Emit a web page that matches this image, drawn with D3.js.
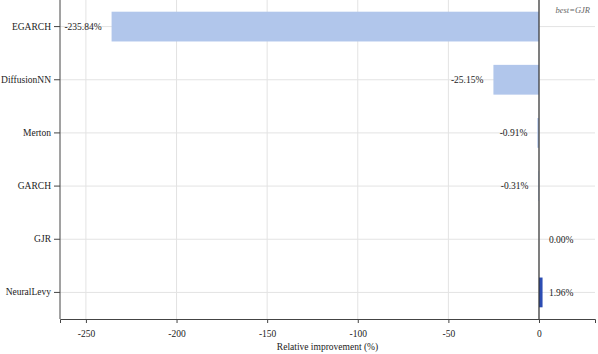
<!DOCTYPE html>
<html>
<head>
<meta charset="utf-8">
<script src="https://cdn.jsdelivr.net/npm/d3@7"></script>
<style>
  body { margin: 0; background: #fff; }
  svg text { font-family: "Liberation Serif", "DejaVu Serif", serif !important; }
</style>
</head>
<body>
<svg id="chart"></svg>
<script>
// data
var models = ["EGARCH", "DiffusionNN", "Merton", "GARCH", "GJR", "NeuralLevy"];
var improvement = [-235.84, -25.15, -0.91, -0.31, 0.00, 1.96];
var xTicks = [-250, -200, -150, -100, -50, 0];
var bestModel = "GJR";

var width = 598, height = 354;
var marginLeft = 60, marginRight = 3, marginTop = 0, marginBottom = 35;
var fontSize = "9.5px";

var svg = d3.select("#chart")
    .attr("width", width)
    .attr("height", height);

var x = d3.scaleLinear()
    .domain([-264.3, 30.9])
    .range([marginLeft, width - marginRight]);

var y = d3.scaleBand()
    .domain(models)
    .range([marginTop, height - marginBottom])
    .paddingInner(0.44)
    .paddingOuter(0.22);

var bottomY = height - marginBottom;

// grid lines
svg.append("g")
    .selectAll("line")
    .data(xTicks)
    .enter()
    .append("line")
    .attr("x1", function(d){ return x(d); })
    .attr("x2", function(d){ return x(d); })
    .attr("y1", marginTop)
    .attr("y2", bottomY)
    .style("stroke", "#e3e3e3")
    .style("stroke-width", 1);

svg.append("g")
    .selectAll("line")
    .data(models)
    .enter()
    .append("line")
    .attr("x1", marginLeft)
    .attr("x2", width - marginRight)
    .attr("y1", function(d){ return y(d) + y.bandwidth()/2; })
    .attr("y2", function(d){ return y(d) + y.bandwidth()/2; })
    .style("stroke", "#e3e3e3")
    .style("stroke-width", 1);

// bars
svg.append("g")
    .selectAll("rect")
    .data(models)
    .enter()
    .append("rect")
    .attr("x", function(d, i){ return x(Math.min(0, improvement[i])); })
    .attr("y", function(d){ return y(d); })
    .attr("width", function(d, i){ return Math.abs(x(improvement[i]) - x(0)); })
    .attr("height", y.bandwidth())
    .attr("fill", function(d, i){
        return improvement[i] > 0 ? "#2c4db3" : "#b1c6eb";
    });

// zero line
svg.append("line")
    .attr("x1", x(0)).attr("x2", x(0))
    .attr("y1", marginTop).attr("y2", bottomY)
    .style("stroke", "#333")
    .style("stroke-width", 1.2);

// value labels
svg.append("g")
    .selectAll("text")
    .data(models)
    .enter()
    .append("text")
    .attr("x", function(d, i){
        var v = improvement[i];
        return v < 0 ? x(v) - 10 : x(0) + 10;
    })
    .attr("y", function(d){ return y(d) + y.bandwidth()/2; })
    .attr("dy", ".35em")
    .attr("text-anchor", function(d, i){ return improvement[i] < 0 ? "end" : "start"; })
    .style("font-size", fontSize)
    .style("fill", "#222")
    .text(function(d, i){ return improvement[i].toFixed(2) + "%"; });

// axes
var xAxis = d3.axisBottom(x).tickValues(xTicks).tickSize(4).tickPadding(7)
    .tickFormat(function(d){ return d3.format("d")(d).replace("−", "-"); });
var gx = svg.append("g")
    .attr("transform", "translate(0," + bottomY + ")")
    .call(xAxis);
gx.select(".domain").style("stroke", "#444");
gx.selectAll(".tick line").style("stroke", "#444");
gx.selectAll("text").style("font-size", fontSize).style("fill", "#222");

var yAxis = d3.axisLeft(y).tickSize(6).tickPadding(3);
var gy = svg.append("g")
    .attr("transform", "translate(" + marginLeft + ",0)")
    .call(yAxis);
gy.select(".domain").attr("d", "M0," + marginTop + "V" + bottomY).style("stroke", "#444");
gy.selectAll(".tick line").style("stroke", "#444");
gy.selectAll("text").style("font-size", fontSize).style("fill", "#222");

// axis title
svg.append("text")
    .attr("x", (marginLeft + width - marginRight) / 2)
    .attr("y", height - 4)
    .attr("text-anchor", "middle")
    .style("font-size", fontSize)
    .style("fill", "#222")
    .text("Relative improvement (%)");

// annotation
svg.append("text")
    .attr("x", width - 8)
    .attr("y", 13)
    .attr("text-anchor", "end")
    .style("font-size", "8.5px")
    .style("font-style", "italic")
    .style("fill", "#666")
    .text("best=" + bestModel);
</script>
</body>
</html>
